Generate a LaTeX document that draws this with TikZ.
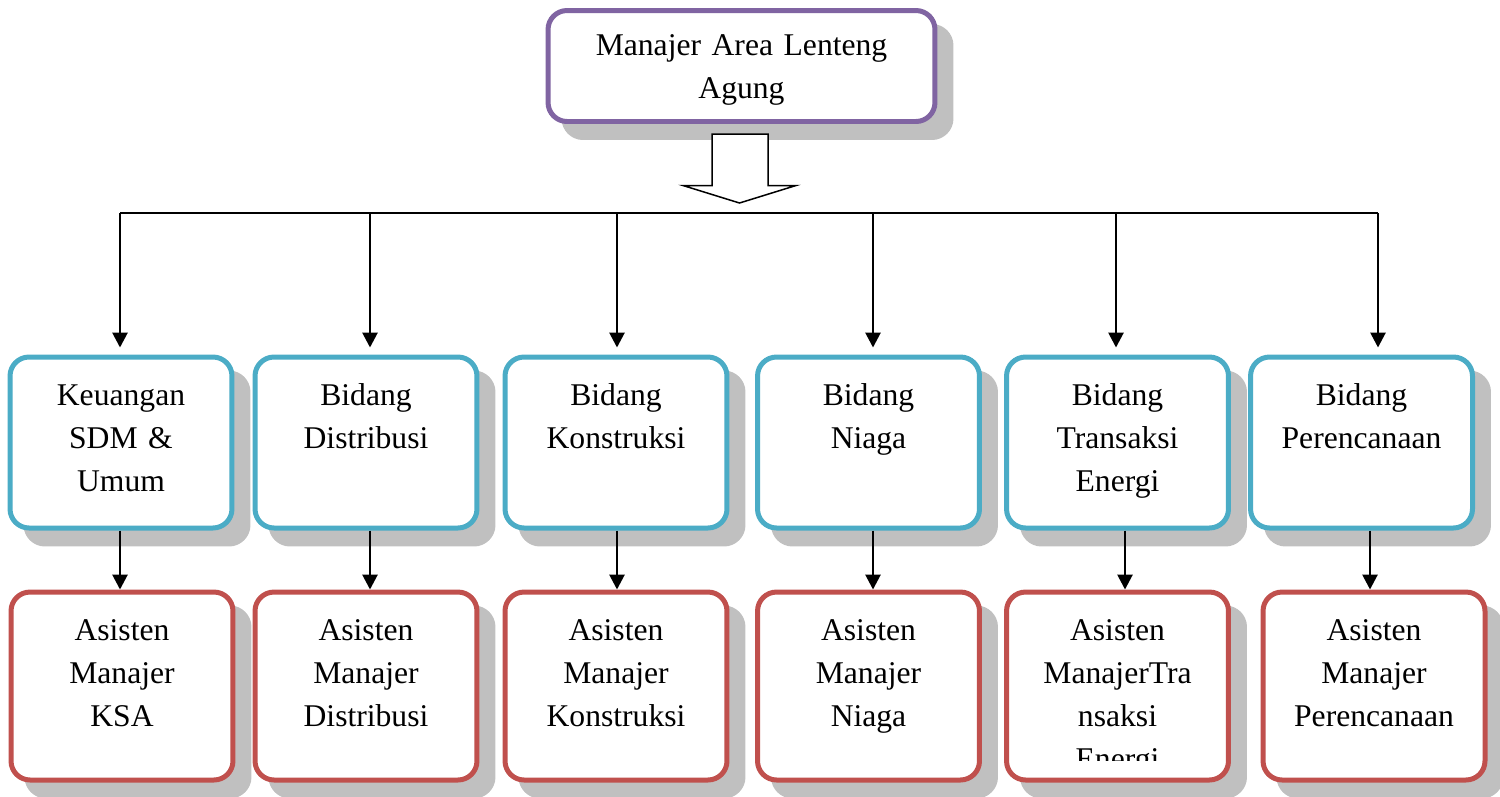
\documentclass[tikz,border=0pt]{standalone}
\usepackage{fontspec}
\setmainfont{Liberation Serif}
\usetikzlibrary{
    arrows.meta,
    calc,
    shadows
}

\definecolor{ungu}{HTML}{8064A2}
\definecolor{biru}{HTML}{4BACC6}
\definecolor{merah}{HTML}{C0504D}
\definecolor{bayang}{HTML}{C0C0C0}

\tikzset{
    >={Triangle[length=0.3cm, width=0.3cm]},
    garis/.style={line width=0.055cm},
    kotak/.style={draw, fill=white, line width=0.1cm, rounded corners=0.38cm,
        align=center, inner xsep=0.12cm, inner ysep=0pt,
        font=\fontsize{18}{24.5}\selectfont,
        general shadow={fill=bayang, draw=bayang, line width=0.1cm,
            shadow xshift=0.32cm, shadow yshift=-0.32cm}},
    kotakatas/.style={kotak, draw=ungu, text width=7.5cm, minimum width=7.74cm,
        text height=0.89cm, text depth=1.33cm},
    kotakbidang/.style={kotak, draw=biru, text width=4.2cm, minimum width=4.44cm,
        text height=0.96cm, text depth=2.46cm},
    kotakasisten/.style={kotak, draw=merah, text width=4.2cm, minimum width=4.44cm,
        text height=0.96cm, text depth=2.8cm}
}

\begin{document}
\begin{tikzpicture}[x=0.02cm, y=-0.02cm]
    \useasboundingbox (0, 0) rectangle (1500, 796);

    \node[kotakatas] (manajer) at (741.5, 66) {Manajer Area Lenteng\\Agung};

    \node[kotakbidang] (keu) at (121, 442.5) {Keuangan\\SDM \&\\Umum};
    \node[kotakbidang] (dist) at (366, 442.5) {Bidang\\Distribusi};
    \node[kotakbidang] (kons) at (616, 442.5) {Bidang\\Konstruksi};
    \node[kotakbidang] (niaga) at (868.5, 442.5) {Bidang\\Niaga};
    \node[kotakbidang] (trans) at (1117.5, 442.5) {Bidang\\Transaksi\\Energi};
    \node[kotakbidang] (renc) at (1361.5, 442.5) {Bidang\\Perencanaan};

    \node[kotakasisten] (askeu) at (122, 686) {Asisten\\Manajer\\KSA};
    \node[kotakasisten] (asdist) at (366, 686) {Asisten\\Manajer\\Distribusi};
    \node[kotakasisten] (askons) at (616, 686) {Asisten\\Manajer\\Konstruksi};
    \node[kotakasisten] (asniaga) at (868.5, 686) {Asisten\\Manajer\\Niaga};
    \node[kotakasisten] (astrans) at (1117.5, 686) {Asisten\\ManajerTra\\nsaksi\\Energi};
    \node[kotakasisten] (asrenc) at (1374, 686) {Asisten\\Manajer\\Perencanaan};
    \fill[white] ($(astrans.center) + (-85, 75)$) rectangle ($(astrans.center) + (85, 91)$);

    \draw[line width=0.03cm, fill=white]
        (712, 134) -- (768, 134) -- (768, 185.5) -- (796, 185.5)
        -- (739.5, 203) -- (683, 185.5) -- (712, 185.5) -- cycle;

    \foreach \n/\x in {keu/120, dist/370, kons/617, niaga/873, trans/1116, renc/1378}
        \coordinate (d\n) at (\x, 213);
    \draw[garis] (dkeu) -- (drenc);
    \foreach \n in {keu, dist, kons, niaga, trans, renc}
        \draw[garis, ->, shorten >=0.14cm] (d\n) -- (d\n |- \n.north);

    \foreach \a/\b/\dx in {keu/askeu/-1, dist/asdist/4, kons/askons/1,
                           niaga/asniaga/4.5, trans/astrans/7.5, renc/asrenc/8.5}
        \draw[garis, ->] ([xshift=\dx*0.02cm]\a.south) coordinate (t\a) -- (t\a |- \b.north);
\end{tikzpicture}
\end{document}
